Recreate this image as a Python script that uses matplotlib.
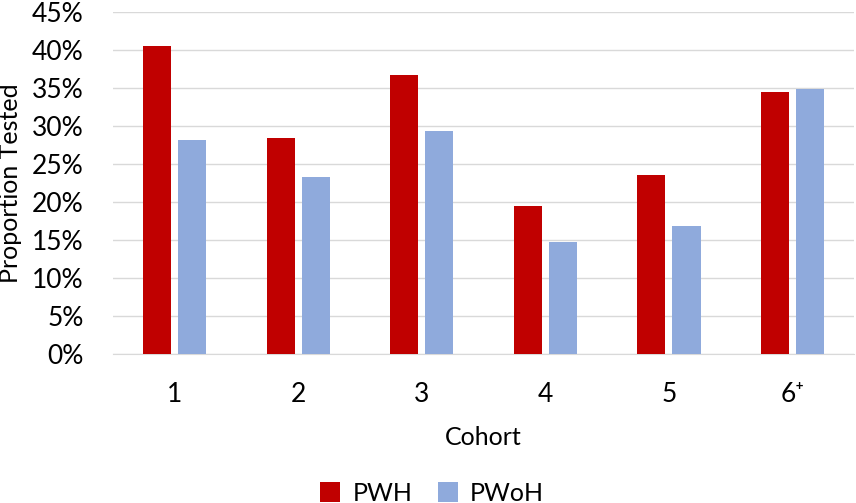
import numpy as np
import matplotlib
matplotlib.use('Agg')
import matplotlib.pyplot as plt
from matplotlib.ticker import PercentFormatter

# data
cohorts = ['1', '2', '3', '4', '5', '6\u207a']
pwh = [40.5, 28.4, 36.7, 19.5, 23.6, 34.5]
pwoh = [28.2, 23.3, 29.3, 14.7, 16.8, 34.9]

plt.rcParams['font.family'] = ['Lato', 'DejaVu Sans']

fig = plt.figure(figsize=(8.56, 5.03), dpi=100)
ax = fig.add_axes([0.132, 0.296, 0.866, 0.680])

x = np.arange(len(cohorts))
w = 0.227
off = 0.142
ax.bar(x - off, pwh, w, color='#C00000', label='PWH', zorder=3)
ax.bar(x + off, pwoh, w, color='#8FAADC', label='PWoH', zorder=3)

ax.set_xlim(-0.5, len(cohorts) - 0.5)
ax.set_ylim(0, 45)
ax.set_yticks(np.arange(0, 46, 5))
ax.yaxis.set_major_formatter(PercentFormatter(decimals=0))
ax.set_xticks(x)
ax.set_xticklabels(cohorts)
ax.grid(axis='y', color='#d9d9d9', linewidth=1, zorder=0)
for s in ['top', 'right', 'left']:
    ax.spines[s].set_visible(False)
ax.spines['bottom'].set_color('#d9d9d9')
ax.tick_params(axis='both', length=0, labelsize=19, colors='black')
ax.tick_params(axis='x', pad=20)
ax.tick_params(axis='y', pad=21)

ax.set_xlabel('Cohort', fontsize=18, labelpad=14)
ax.set_ylabel('Proportion Tested', fontsize=18, labelpad=7)

fig.legend(loc='lower center', bbox_to_anchor=(0.505, -0.048), ncol=2, frameon=False,
           fontsize=18, handlelength=0.8, handleheight=0.8, handletextpad=0.5,
           columnspacing=1.0)

plt.savefig('out.png', dpi=100)
